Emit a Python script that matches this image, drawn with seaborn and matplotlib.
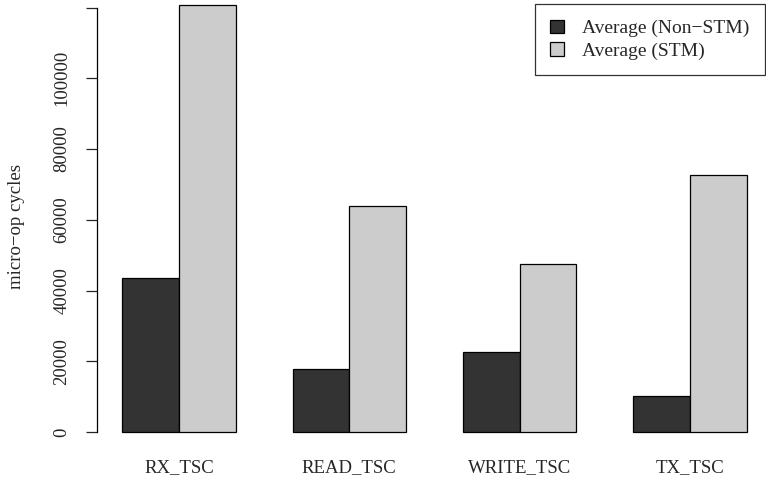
import pandas as pd
import seaborn as sns
import matplotlib.pyplot as plt

# Datos
categories = ["RX_TSC", "READ_TSC", "WRITE_TSC", "TX_TSC"]
series_names = ["Average (Non\u2212STM)", "Average (STM)"]
non_stm = [43600, 17800, 22600, 10200]
stm = [120700, 63900, 47500, 72700]
y_ticks = [0, 20000, 40000, 60000, 80000, 100000, 120000]
y_tick_labels = ["0", "20000", "40000", "60000", "80000", "100000", ""]

df = pd.DataFrame({
    "category": categories * 2,
    "series": [series_names[0]] * 4 + [series_names[1]] * 4,
    "value": non_stm + stm,
})

sns.set_style("white")
plt.rcParams["font.family"] = ["Liberation Serif", "DejaVu Serif"]
plt.rcParams["font.size"] = 13.5

W, H = 766, 479
fig = plt.figure(figsize=(W / 100, H / 100), dpi=100)
ax = fig.add_axes([97 / W, (H - 449) / H, (W - 97) / W, (449 - 4) / H])

sns.barplot(data=df, x="category", y="value", hue="series",
            order=categories, hue_order=series_names,
            palette=["#333333", "#cccccc"], width=2 / 3,
            edgecolor="black", linewidth=0.9, saturation=1, ax=ax)

ax.set_xlim(-0.481, 3.446)
ax.set_ylim(-4806, 121000)

for s in ["top", "right", "bottom"]:
    ax.spines[s].set_visible(False)
ax.spines["left"].set_bounds(0, 120000)
ax.spines["left"].set_color("black")
ax.spines["left"].set_linewidth(0.9)

ax.set_yticks(y_ticks)
ax.set_yticklabels(y_tick_labels, rotation=90, va="center")
ax.tick_params(axis="y", direction="out", length=8, width=0.9, pad=11, left=True)
ax.tick_params(axis="x", length=0, pad=7)

ax.set_xlabel("")
ax.set_ylabel("micro\u2212op cycles")
ax.yaxis.set_label_coords(-0.107, 0.5)

leg = ax.legend(loc="upper right", bbox_to_anchor=(0.999, 1.0), borderaxespad=0,
                frameon=True, fancybox=False, edgecolor="black", fontsize=14,
                handlelength=0.7, handleheight=0.7, handletextpad=0.95,
                borderpad=0.8, labelspacing=0.25)
leg.get_frame().set_linewidth(0.9)

fig.savefig("out.png", dpi=100)
